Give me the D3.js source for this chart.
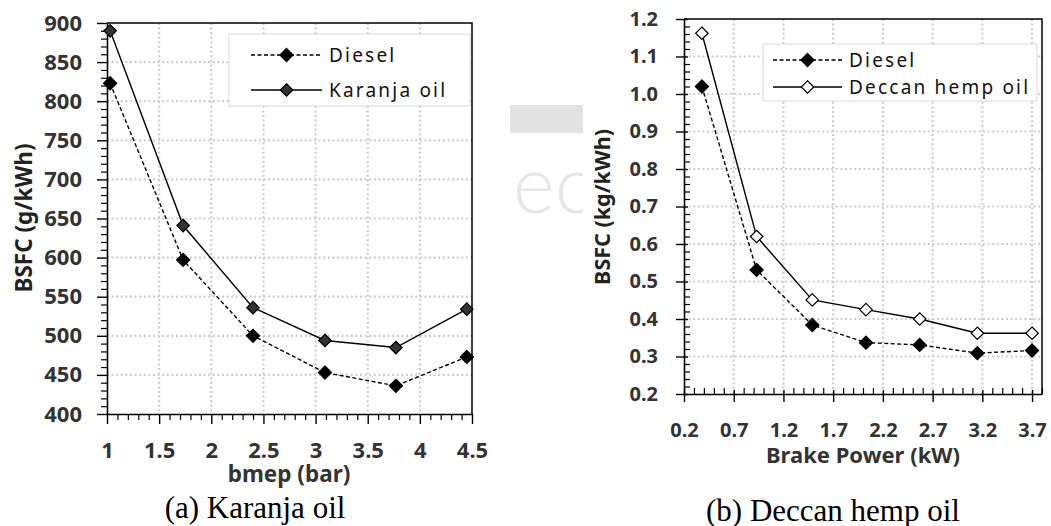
<!DOCTYPE html>
<html>
<head>
<meta charset="utf-8">
<script src="https://cdn.jsdelivr.net/npm/d3@7"></script>
<style>
  html, body { margin: 0; padding: 0; background: #fff; }
  svg { display: block; }
  .tick text { font-family: "Noto Sans", sans-serif; font-weight: 700; fill: #333; }
  .axis path, .axis line { stroke: #000; }
</style>
</head>
<body>
<svg id="chart" width="1051" height="526"></svg>
<script>
// panel (a): BSFC vs bmep
var bmep = [1.03, 1.73, 2.40, 3.09, 3.77, 4.45];
var dieselA = [823, 597, 500, 453, 436, 473];
var karanja = [890, 641, 536, 494, 485, 534];
var xTicksA = [1, 1.5, 2, 2.5, 3, 3.5, 4, 4.5];
var yTicksA = [400, 450, 500, 550, 600, 650, 700, 750, 800, 850, 900];

// panel (b): BSFC vs brake power
var power = [0.38, 0.93, 1.49, 2.03, 2.57, 3.15, 3.70];
var dieselB = [1.02, 0.531, 0.384, 0.337, 0.331, 0.309, 0.316];
var hemp = [1.162, 0.62, 0.451, 0.425, 0.400, 0.362, 0.362];
var xTicksB = [0.2, 0.7, 1.2, 1.7, 2.2, 2.7, 3.2, 3.7];
var yTicksB = [0.2, 0.3, 0.4, 0.5, 0.6, 0.7, 0.8, 0.9, 1.0, 1.1, 1.2];

var svg = d3.select("#chart");

// faint watermark left over from the source page
svg.append("clipPath").attr("id", "wm")
  .append("rect").attr("x", 500).attr("y", 90).attr("width", 83).attr("height", 140);
var wm = svg.append("g").attr("clip-path", "url(#wm)");
wm.append("rect")
  .attr("x", 510).attr("y", 105).attr("width", 73).attr("height", 28)
  .style("fill", "#e2e2e2");
wm.append("text")
  .attr("x", 513).attr("y", 213)
  .style("font-family", "Lato, sans-serif")
  .style("font-weight", 300)
  .style("font-size", "80px")
  .style("fill", "#e6e6e6")
  .text("ec");

function drawPanel(p) {
  var g = svg.append("g")
    .attr("transform", "translate(" + p.left + "," + p.top + ")");

  var x = d3.scaleLinear().domain(p.xDomain).range([0, p.width]);
  var y = d3.scaleLinear().domain(p.yDomain).range([p.height, 0]);

  // dotted grid
  g.append("g").selectAll("line")
    .data(p.yTicks.filter(function(d) { return d > p.yDomain[0] && d < p.yDomain[1]; }))
    .enter().append("line")
    .attr("x1", 0).attr("x2", p.width)
    .attr("y1", function(d) { return y(d); })
    .attr("y2", function(d) { return y(d); })
    .style("stroke", "#cdcdcd").style("stroke-width", 2.2)
    .style("stroke-dasharray", "2,2.6");

  g.append("g").selectAll("line")
    .data(p.xTicks.filter(function(d) { return d > p.xDomain[0] + 1e-6 && d < p.xDomain[1] - 1e-6; }))
    .enter().append("line")
    .attr("y1", 0).attr("y2", p.height)
    .attr("x1", function(d) { return x(d); })
    .attr("x2", function(d) { return x(d); })
    .style("stroke", "#cdcdcd").style("stroke-width", 2.2)
    .style("stroke-dasharray", "2,2.6");

  // top and right border of the plot area
  g.append("path")
    .attr("d", "M0,0H" + p.width + "V" + p.height)
    .style("fill", "none").style("stroke", "#000").style("stroke-width", 1.5);

  // minor ticks
  function isMajor(v, ticks) {
    return ticks.some(function(t) { return Math.abs(t - v) < 1e-6; });
  }
  var xMinor = d3.range(p.xDomain[0], p.xDomain[1] + 1e-6, p.xMinorStep)
    .filter(function(v) { return !isMajor(v, p.xTicks); });
  var yMinor = d3.range(p.yDomain[0], p.yDomain[1] + 1e-6, p.yMinorStep)
    .filter(function(v) { return !isMajor(v, p.yTicks); });

  var yMinorAxis = (p.minorInside ? d3.axisRight(y) : d3.axisLeft(y))
    .tickValues(yMinor).tickSize(6).tickFormat("").tickSizeOuter(0);
  g.append("g").attr("class", "axis").call(yMinorAxis)
    .call(function(s) { s.select(".domain").remove(); })
    .selectAll("line").style("stroke-width", 1.2);

  var xMinorAxis = (p.minorInside ? d3.axisTop(x) : d3.axisBottom(x))
    .tickValues(xMinor).tickSize(6).tickFormat("").tickSizeOuter(0);
  g.append("g").attr("class", "axis")
    .attr("transform", "translate(0," + p.height + ")")
    .call(xMinorAxis)
    .call(function(s) { s.select(".domain").remove(); })
    .selectAll("line").style("stroke-width", 1.2);

  // major axes
  var yAxis = d3.axisLeft(y).tickValues(p.yTicks).tickFormat(p.yFormat)
    .tickSize(p.majorTick).tickSizeOuter(0).tickPadding(p.yPad);
  var ya = g.append("g").attr("class", "axis").call(yAxis);
  ya.selectAll(".tick text").style("font-size", p.tickFont + "px");
  ya.select(".domain").style("stroke-width", 1.6);
  ya.selectAll(".tick line").attr("x1", p.cross).style("stroke-width", 1.4);

  var xAxis = d3.axisBottom(x).tickValues(p.xTicks).tickFormat(p.xFormat)
    .tickSize(p.majorTick).tickSizeOuter(0).tickPadding(p.xPad);
  var xa = g.append("g").attr("class", "axis")
    .attr("transform", "translate(0," + p.height + ")")
    .call(xAxis);
  xa.selectAll(".tick text").style("font-size", p.tickFont + "px");
  xa.select(".domain").style("stroke-width", 1.6);
  xa.selectAll(".tick line").attr("y1", -p.cross).style("stroke-width", 1.4);

  // axis titles
  g.append("text")
    .attr("x", p.xTitle[0]).attr("y", p.xTitle[1])
    .attr("text-anchor", "middle")
    .style("font-family", "'Noto Sans', sans-serif")
    .style("font-weight", 700).style("font-size", p.xTitleFont + "px").style("fill", "#333")
    .text(p.xLabel);

  g.append("text")
    .attr("transform", "translate(" + p.yTitle[0] + "," + p.yTitle[1] + ") rotate(-90)")
    .attr("text-anchor", "middle")
    .style("font-family", "'Noto Sans', sans-serif")
    .style("font-weight", 700).style("font-size", p.yTitleFont + "px").style("fill", "#222")
    .text(p.yLabel);

  // series
  var diamond = d3.symbol().type(d3.symbolDiamond2);
  p.series.forEach(function(s) {
    var pts = p.xs.map(function(v, i) { return [v, s.values[i]]; });
    g.append("path")
      .datum(pts)
      .attr("d", d3.line().x(function(d) { return x(d[0]); }).y(function(d) { return y(d[1]); }))
      .style("fill", "none").style("stroke", "#000").style("stroke-width", 1.4)
      .style("stroke-dasharray", s.dash);
    g.append("g").selectAll("path")
      .data(pts)
      .enter().append("path")
      .attr("transform", function(d) { return "translate(" + x(d[0]) + "," + y(d[1]) + ")"; })
      .attr("d", diamond.size(s.size))
      .style("fill", s.fill).style("stroke", "#000").style("stroke-width", 1.2);
  });

  // legend
  var L = p.legend;
  var lg = g.append("g").attr("transform", "translate(" + L.x + "," + L.y + ")");
  lg.append("rect")
    .attr("width", L.w).attr("height", L.h)
    .style("fill", "#fff").style("stroke", "#d9d9d9").style("stroke-width", 1);
  p.series.forEach(function(s, i) {
    var row = lg.append("g").attr("transform", "translate(0," + L.rows[i] + ")");
    row.append("line")
      .attr("x1", L.lineX[0]).attr("x2", L.lineX[1])
      .style("stroke", "#000").style("stroke-width", 1.4)
      .style("stroke-dasharray", s.dash);
    row.append("path")
      .attr("transform", "translate(" + (L.lineX[0] + L.lineX[1]) / 2 + ",0)")
      .attr("d", diamond.size(s.size))
      .style("fill", s.fill).style("stroke", "#000").style("stroke-width", 1.2);
    row.append("text")
      .attr("x", L.textX).attr("dy", "0.36em")
      .style("font-family", "'Noto Sans', sans-serif")
      .style("font-size", "19px").style("letter-spacing", "2.2px").style("fill", "#111")
      .text(s.name);
  });

  // caption under the panel
  svg.append("text")
    .attr("x", p.caption[0]).attr("y", p.caption[1])
    .attr("text-anchor", "middle")
    .style("font-family", "'Liberation Serif', 'Times New Roman', serif")
    .style("font-size", "31px").style("fill", "#000")
    .text(p.captionText);
}

drawPanel({
  left: 107, top: 23, width: 365, height: 391,
  xDomain: [1, 4.5], yDomain: [400, 900],
  xTicks: xTicksA, yTicks: yTicksA,
  xMinorStep: 0.1, yMinorStep: 10,
  xFormat: d3.format("~g"), yFormat: d3.format("d"),
  majorTick: 10, cross: 0, minorInside: false,
  yPad: 15, xPad: 18, tickFont: 22,
  xs: bmep,
  series: [
    { name: "Diesel", values: dieselA, dash: "4,2.5", fill: "#000", size: 110 },
    { name: "Karanja oil", values: karanja, dash: null, fill: "#333", size: 100 }
  ],
  xLabel: "bmep (bar)", xTitle: [182, 459], xTitleFont: 22.5,
  yLabel: "BSFC (g/kWh)", yTitle: [-75, 195], yTitleFont: 22.5,
  legend: { x: 122, y: 11, w: 241, h: 72, rows: [21, 56], lineX: [22, 93], textX: 100 },
  caption: [255, 518], captionText: "(a) Karanja oil"
});

drawPanel({
  left: 684, top: 19, width: 358, height: 375,
  xDomain: [0.2, 3.8], yDomain: [0.2, 1.2],
  xTicks: xTicksB, yTicks: yTicksB,
  xMinorStep: 0.1, yMinorStep: 0.02,
  xFormat: d3.format(".1f"), yFormat: d3.format(".1f"),
  majorTick: 8, cross: 4, minorInside: true,
  yPad: 18, xPad: 21, tickFont: 20,
  xs: power,
  series: [
    { name: "Diesel", values: dieselB, dash: "4,2.5", fill: "#000", size: 110 },
    { name: "Deccan hemp oil", values: hemp, dash: null, fill: "#fff", size: 100 }
  ],
  xLabel: "Brake Power (kW)", xTitle: [179, 444], xTitleFont: 22,
  yLabel: "BSFC (kg/kWh)", yTitle: [-74, 188], yTitleFont: 21.5,
  legend: { x: 79, y: 25, w: 274, h: 57, rows: [16, 43], lineX: [10, 79], textX: 86 },
  caption: [833, 521], captionText: "(b) Deccan hemp oil"
});
</script>
</body>
</html>
